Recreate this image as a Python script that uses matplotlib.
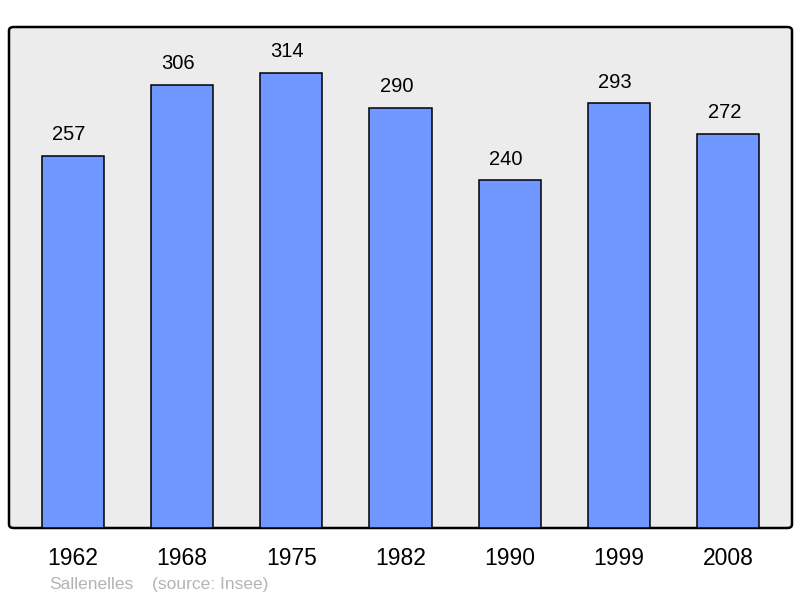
import matplotlib.pyplot as plt
from matplotlib.patches import FancyBboxPatch

years = ["1962", "1968", "1975", "1982", "1990", "1999", "2008"]
population = [257, 306, 314, 290, 240, 293, 272]

plt.rcParams['font.family'] = ['Liberation Sans', 'DejaVu Sans']

fig = plt.figure(figsize=(8, 5.98), dpi=100)
ax = fig.add_axes([9/800, 70/598, 783/800, 501/598])
ax.set_facecolor('none')
ax.set_zorder(2)

# rounded frame with grey background
frame = FancyBboxPatch((9/800, 70/598), 783/800, 501/598,
                       boxstyle="round,pad=0,rounding_size=0.006",
                       transform=fig.transFigure, facecolor='#ececec',
                       edgecolor='black', linewidth=1.8, zorder=0)
fig.patches.append(frame)

x = range(len(years))
ax.bar(x, population, width=0.57, color='#7096ff', edgecolor='black',
       linewidth=1.1, zorder=2)
for xi, v in zip(x, population):
    ax.text(xi - 0.035, v + 8, str(v), ha='center', va='bottom', fontsize=14.5)

ax.set_xlim(-0.585, 6.585)
ax.set_ylim(0, 345.7)
ax.set_xticks(list(x))
ax.set_xticklabels(years, fontsize=16.5)
ax.tick_params(axis='x', length=0, pad=14)
ax.set_yticks([])
for s in ax.spines.values():
    s.set_visible(False)

fig.text(49/800, 1 - 589/598, "Sallenelles",
         color='#b4b4b4', fontsize=12.5, va='baseline', ha='left')
fig.text(152/800, 1 - 589/598, "(source: Insee)",
         color='#b4b4b4', fontsize=12.5, va='baseline', ha='left')

fig.savefig("out.png", dpi=100)
